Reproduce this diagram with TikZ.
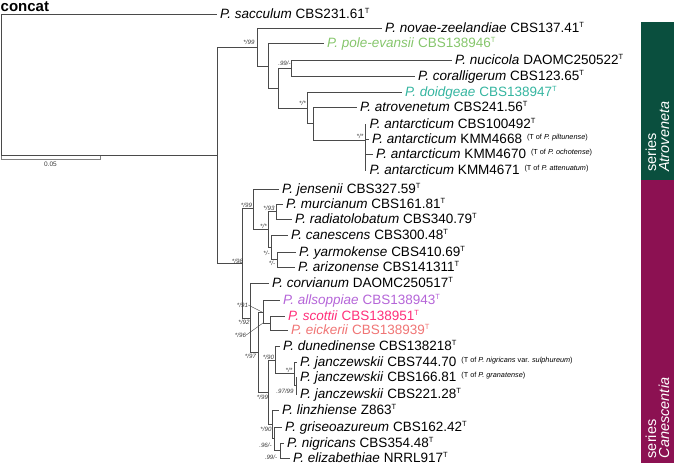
\documentclass[tikz,border=0pt]{standalone}
\usepackage{fontspec}
\setmainfont{Liberation Sans}
\usetikzlibrary{calc}
\definecolor{treeline}{HTML}{4A4A4A}
\definecolor{supgray}{HTML}{3A3A3A}
\definecolor{poleGreen}{HTML}{86C66C}
\definecolor{doidTeal}{HTML}{35B5A0}
\definecolor{allsViolet}{HTML}{B565D8}
\definecolor{scotPink}{HTML}{FF2F7A}
\definecolor{eickSalmon}{HTML}{F07575}
\definecolor{atroGreen}{HTML}{0A4F3E}
\definecolor{caneMaroon}{HTML}{8C1152}
\newcommand{\supT}{\raisebox{5pt}{\fontsize{7.5}{8}\selectfont T}}
\newcommand{\typeof}[1]{\hspace{5pt}\raisebox{4.5pt}{\fontsize{7.3}{8}\selectfont (T of #1)}}
\begin{document}
\begin{tikzpicture}[x=1pt,y=-1pt,
  edge/.style={draw=treeline, line width=0.8pt},
  leaf/.style={anchor=base west, inner sep=0pt, xshift=3.5pt, yshift=-4.7pt, font=\fontsize{13.5}{15}\selectfont},
  suplab/.style={font=\fontsize{6.2}{7}\selectfont\itshape, text=supgray, inner sep=0pt},
  leader/.style={draw=treeline, line width=0.4pt},
  bartext/.style={rotate=90, anchor=base west, inner sep=0pt, text=white, font=\fontsize{14.5}{15}\selectfont}]
\useasboundingbox (0,0) rectangle (674,465);

% ---- title and scale ----
\node[anchor=base west, inner sep=0pt, font=\fontsize{15}{16}\selectfont\bfseries] (title) at (0.5,11.7) {concat};
\coordinate (sbL) at (1,159);
\coordinate (sbR) at (100,159);
\draw[draw=gray, line width=0.6pt] (sbL) -- (sbR);
\draw[draw=gray, line width=0.5pt] ($(sbL)+(0,-2.5)$) -- ($(sbL)+(0,1.5)$);
\draw[draw=gray, line width=0.5pt] ($(sbR)+(0,-2.5)$) -- ($(sbR)+(0,1.5)$);
\node[inner sep=0pt, font=\fontsize{6.5}{7}\selectfont, text=supgray] (sblab) at (50.5,164.5) {0.05};

% ---- internal nodes ----
\coordinate (root) at (1.5,84.5);
\coordinate (n1) at (217,155.5);
\coordinate (n2) at (257,47);
\coordinate (n3) at (268,66);
\coordinate (n4) at (278,88);
\coordinate (n5) at (291,68);
\coordinate (n6) at (307,108);
\coordinate (n7) at (313,123.5);
\coordinate (n8) at (365,140);
\coordinate (n9) at (242,263.5);
\coordinate (n10) at (253,208.5);
\coordinate (n12) at (268,229.5);
\coordinate (n13) at (276,211.5);
\coordinate (n14) at (271,247);
\coordinate (n15) at (277,259.5);
\coordinate (n11) at (250,318);
\coordinate (n16) at (258,352.5);
\coordinate (nA) at (263,312.5);
\coordinate (nSE) at (270,323);
\coordinate (n17) at (268,392);
\coordinate (n18) at (275,360);
\coordinate (n20) at (294,373.5);
\coordinate (n21) at (296,385.5);
\coordinate (n19) at (272,424);
\coordinate (n22) at (274.5,438);
\coordinate (n23) at (280,450.5);

% ---- leaves (branch ends) ----
\coordinate (Lsacc) at (216.5,14);
\coordinate (Lnova) at (381.5,28);
\coordinate (Lpole) at (323.5,43);
\coordinate (Lnuci) at (451.5,60);
\coordinate (Lcora) at (414.5,76);
\coordinate (Ldoid) at (401.5,92);
\coordinate (Latro) at (356.5,107);
\coordinate (Lant1) at (366,124);
\coordinate (Lant2) at (368.5,139);
\coordinate (Lant3) at (372.5,154);
\coordinate (Lant4) at (366,170);
\coordinate (Ljens) at (278.5,189);
\coordinate (Lmurc) at (282.5,204);
\coordinate (Lradi) at (291.5,219);
\coordinate (Lcane) at (287.5,235);
\coordinate (Lyarm) at (295.5,252);
\coordinate (Lariz) at (294.5,267);
\coordinate (Lcorv) at (268.5,283);
\coordinate (Lalls) at (279.5,300);
\coordinate (Lscot) at (284.5,316);
\coordinate (Leick) at (287.5,330);
\coordinate (Ldune) at (279.5,346);
\coordinate (Ljan1) at (296.5,362);
\coordinate (Ljan2) at (296.5,377);
\coordinate (Ljan3) at (296.5,394);
\coordinate (Llinz) at (278.5,410);
\coordinate (Lgris) at (281.5,427);
\coordinate (Lnigr) at (283.5,443);
\coordinate (Leliz) at (289.5,458);

% ---- edges ----
\draw[edge] (root) |- (Lsacc);
\draw[edge] (root) |- (n1);
\draw[edge] (n1) |- (n2);
\draw[edge] (n1) |- (n9);
\draw[edge] (n2) |- (Lnova);
\draw[edge] (n2) |- (n3);
\draw[edge] (n3) |- (Lpole);
\draw[edge] (n3) |- (n4);
\draw[edge] (n4) |- (n5);
\draw[edge] (n4) |- (n6);
\draw[edge] (n5) |- (Lnuci);
\draw[edge] (n5) |- (Lcora);
\draw[edge] (n6) |- (Ldoid);
\draw[edge] (n6) |- (n7);
\draw[edge] (n7) |- (Latro);
\draw[edge] (n7) |- (n8);
\draw[edge] (n8) |- (Lant1);
\draw[edge] (n8) |- (Lant2);
\draw[edge] (n8) |- (Lant3);
\draw[edge] (n8) |- (Lant4);
\draw[edge] (n9) |- (n10);
\draw[edge] (n9) |- (n11);
\draw[edge] (n10) |- (Ljens);
\draw[edge] (n10) |- (n12);
\draw[edge] (n12) |- (n13);
\draw[edge] (n12) |- (n14);
\draw[edge] (n13) |- (Lmurc);
\draw[edge] (n13) |- (Lradi);
\draw[edge] (n14) |- (Lcane);
\draw[edge] (n14) |- (n15);
\draw[edge] (n15) |- (Lyarm);
\draw[edge] (n15) |- (Lariz);
\draw[edge] (n11) |- (Lcorv);
\draw[edge] (n11) |- (n16);
\draw[edge] (n16) |- (nA);
\draw[edge] (n16) |- (n17);
\draw[edge] (nA) |- (Lalls);
\draw[edge] (nA) |- (nSE);
\draw[edge] (nSE) |- (Lscot);
\draw[edge] (nSE) |- (Leick);
\draw[edge] (n17) |- (n18);
\draw[edge] (n17) |- (n19);
\draw[edge] (n18) |- (Ldune);
\draw[edge] (n18) |- (n20);
\draw[edge] (n20) |- (Ljan1);
\draw[edge] (n20) |- (n21);
\draw[edge] (n21) |- (Ljan2);
\draw[edge] (n21) |- (Ljan3);
\draw[edge] (n19) |- (Llinz);
\draw[edge] (n19) |- (n22);
\draw[edge] (n22) |- (Lgris);
\draw[edge] (n22) |- (n23);
\draw[edge] (n23) |- (Lnigr);
\draw[edge] (n23) |- (Leliz);

% ---- leaf labels ----
\node[leaf] (tsacc) at (Lsacc) {\textit{P. sacculum} CBS231.61\supT};
\node[leaf] (tnova) at (Lnova) {\textit{P. novae-zeelandiae} CBS137.41\supT};
\node[leaf, text=poleGreen] (tpole) at (Lpole) {\textit{P. pole-evansii} CBS138946\supT};
\node[leaf] (tnuci) at (Lnuci) {\textit{P. nucicola} DAOMC250522\supT};
\node[leaf] (tcora) at (Lcora) {\textit{P. coralligerum} CBS123.65\supT};
\node[leaf, text=doidTeal] (tdoid) at (Ldoid) {\textit{P. doidgeae} CBS138947\supT};
\node[leaf] (tatro) at (Latro) {\textit{P. atrovenetum} CBS241.56\supT};
\node[leaf] (tant1) at (Lant1) {\textit{P. antarcticum} CBS100492\supT};
\node[leaf] (tant2) at (Lant2) {\textit{P. antarcticum} KMM4668\typeof{\textit{P. piltunense}}};
\node[leaf] (tant3) at (Lant3) {\textit{P. antarcticum} KMM4670\typeof{\textit{P. ochotense}}};
\node[leaf] (tant4) at (Lant4) {\textit{P. antarcticum} KMM4671\typeof{\textit{P. attenuatum}}};
\node[leaf] (tjens) at (Ljens) {\textit{P. jensenii} CBS327.59\supT};
\node[leaf] (tmurc) at (Lmurc) {\textit{P. murcianum} CBS161.81\supT};
\node[leaf] (tradi) at (Lradi) {\textit{P. radiatolobatum} CBS340.79\supT};
\node[leaf] (tcane) at (Lcane) {\textit{P. canescens} CBS300.48\supT};
\node[leaf] (tyarm) at (Lyarm) {\textit{P. yarmokense} CBS410.69\supT};
\node[leaf] (tariz) at (Lariz) {\textit{P. arizonense} CBS141311\supT};
\node[leaf] (tcorv) at (Lcorv) {\textit{P. corvianum} DAOMC250517\supT};
\node[leaf, text=allsViolet] (talls) at (Lalls) {\textit{P. allsoppiae} CBS138943\supT};
\node[leaf, text=scotPink] (tscot) at (Lscot) {\textit{P. scottii} CBS138951\supT};
\node[leaf, text=eickSalmon] (teick) at (Leick) {\textit{P. eickerii} CBS138939\supT};
\node[leaf] (tdune) at (Ldune) {\textit{P. dunedinense} CBS138218\supT};
\node[leaf] (tjan1) at (Ljan1) {\textit{P. janczewskii} CBS744.70\typeof{\textit{P. nigricans} var. \textit{sulphureum}}};
\node[leaf] (tjan2) at (Ljan2) {\textit{P. janczewskii} CBS166.81\typeof{\textit{P. granatense}}};
\node[leaf] (tjan3) at (Ljan3) {\textit{P. janczewskii} CBS221.28\supT};
\node[leaf] (tlinz) at (Llinz) {\textit{P. linzhiense} Z863\supT};
\node[leaf] (tgris) at (Lgris) {\textit{P. griseoazureum} CBS162.42\supT};
\node[leaf] (tnigr) at (Lnigr) {\textit{P. nigricans} CBS354.48\supT};
\node[leaf] (teliz) at (Leliz) {\textit{P. elizabethiae} NRRL917\supT};

% ---- support values ----
\node[suplab] (s2) at (249,42) {*/99};
\node[suplab] (s5) at (284.5,63.5) {.99/-};
\node[suplab] (s6) at (302.5,103) {*/*};
\node[suplab] (s8) at (360,136) {*/*};
\node[suplab] (s10) at (246.5,205) {*/99};
\node[suplab] (s9) at (237.5,261.5) {*/98};
\node[suplab] (s13) at (269,208) {*/93};
\node[suplab] (s12) at (263.5,226) {*/*};
\node[suplab] (s14) at (266.5,253) {*/-};
\node[suplab] (s15) at (272,263.5) {*/-};
\node[suplab] (sA) at (242.5,305) {*/91};
\node[suplab] (sSE) at (240.5,335) {*/96};
\node[suplab] (s11) at (244,322) {*/92};
\node[suplab] (s16) at (250.5,356.5) {*/97};
\node[suplab] (s18) at (268.5,357.5) {*/90};
\node[suplab] (s20) at (289,370.5) {*/*};
\node[suplab] (s21) at (285,391) {.97/99};
\node[suplab] (s17) at (262.5,397) {*/99};
\node[suplab] (s19) at (266,429) {*/90};
\node[suplab] (s22) at (265.5,445) {.96/-};
\node[suplab] (s23) at (271,457.5) {.99/-};
\draw[leader] (sA.east) -- (nA);
\draw[leader] (sSE.east) -- (nA |- nSE);

% ---- series bars ----
\fill[atroGreen] (640.5,22) rectangle (674,180);
\fill[caneMaroon] (640.5,180) rectangle (674,463);
\node[bartext] (atro1) at (656,172) {series};
\node[bartext] (atro2) at (669,172) {\textit{Atroveneta}};
\node[bartext] (cane1) at (656,458.5) {series};
\node[bartext] (cane2) at (669,458.5) {\textit{Canescentia}};
\end{tikzpicture}
\end{document}
